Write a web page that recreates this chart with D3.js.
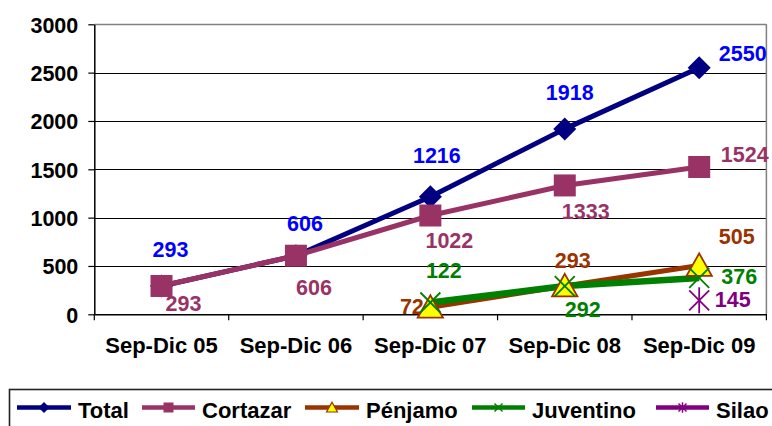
<!DOCTYPE html>
<html>
<head>
<meta charset="utf-8">
<script src="https://cdn.jsdelivr.net/npm/d3@7"></script>
<style>
  html, body { margin: 0; padding: 0; background: #fff; }
  svg { display: block; }
  text { font-family: "Liberation Sans", Arial, sans-serif; font-weight: bold; }
</style>
</head>
<body>
<svg id="chart" width="772" height="426"></svg>
<script>
// ---- data ----
const categories = ["Sep-Dic 05", "Sep-Dic 06", "Sep-Dic 07", "Sep-Dic 08", "Sep-Dic 09"];
const totalValues     = [293, 606, 1216, 1918, 2550];
const cortazarValues  = [293, 606, 1022, 1333, 1524];
const penjamoValues   = [null, null, 72, 293, 505];
const juventinoValues = [null, null, 122, 292, 376];
const silaoValues     = [null, null, null, null, 145];
const yTicks = [0, 500, 1000, 1500, 2000, 2500, 3000];
const seriesNames = ["Total", "Cortazar", "Pénjamo", "Juventino", "Silao"];

// ---- layout (label offsets relative to point, in px) ----
const totalLabelOffsets     = [[9, -29], [9, -25], [6.5, -34], [5, -29], [43.5, -7]];
const cortazarLabelOffsets  = [[22, 25.5], [18, 39], [19, 32.5], [21, 33.6], [45.5, -5]];
const penjamoLabelOffsets   = [null, null, [-18.5, 7], [8, -18], [37.5, -21.5]];
const juventinoLabelOffsets = [null, null, [13.5, -24.5], [18, 31], [40, 6]];
const silaoLabelOffsets     = [null, null, null, null, [33.5, 6.7]];

const series = [
  { name: seriesNames[0], values: totalValues, offs: totalLabelOffsets, line: "#000080", label: "#0000FF", width: 5, marker: "diamond" },
  { name: seriesNames[1], values: cortazarValues, offs: cortazarLabelOffsets, line: "#993366", label: "#993366", width: 5, marker: "square" },
  { name: seriesNames[2], values: penjamoValues, offs: penjamoLabelOffsets, line: "#993300", label: "#993300", width: 5, marker: "triangle" },
  { name: seriesNames[3], values: juventinoValues, offs: juventinoLabelOffsets, line: "#008000", label: "#008000", width: 6.5, marker: "x" },
  { name: seriesNames[4], values: silaoValues, offs: silaoLabelOffsets, line: "#800080", label: "#800080", width: 5, marker: "star" }
];

const svg = d3.select("#chart");
const plotL = 94.3, plotR = 766.4, plotT = 24.3, plotB = 314.3;

const x = d3.scaleBand().domain(categories).range([plotL, plotR]).paddingInner(0).paddingOuter(0);
const cx = c => x(c) + x.bandwidth() / 2;
const y = d3.scaleLinear().domain([0, 3000]).range([plotB, plotT]);

// gridlines
svg.append("g").selectAll("line").data(yTicks.filter(t => t > 0)).join("line")
  .attr("x1", plotL).attr("x2", plotR)
  .attr("y1", d => Math.round(y(d)) + 0.5).attr("y2", d => Math.round(y(d)) + 0.5)
  .attr("stroke", d => d === 3000 ? "#808080" : "#000").attr("stroke-width", d => d === 3000 ? 1.5 : 1.2);
// right border
svg.append("line").attr("x1", plotR).attr("x2", plotR).attr("y1", plotT).attr("y2", plotB)
  .attr("stroke", "#808080").attr("stroke-width", 1.5);

// y axis
const yAxis = svg.append("g").attr("transform", `translate(${plotL},0)`)
  .call(d3.axisLeft(y).tickValues(yTicks).tickFormat(d3.format("d")).tickSize(6).tickSizeOuter(0).tickPadding(10));
yAxis.select(".domain").attr("stroke", "#000").attr("stroke-width", 1.5);
yAxis.selectAll(".tick line").attr("stroke", "#000").attr("stroke-width", 1.2);
yAxis.selectAll(".tick text").attr("font-size", "21.5px").attr("fill", "#000")
  .attr("font-family", "'Liberation Sans', Arial, sans-serif").attr("font-weight", "bold")
  .attr("dy", "0.36em");

// x axis
const xAxis = svg.append("g").attr("transform", `translate(0,${plotB})`)
  .call(d3.axisBottom(x).tickSize(0).tickSizeOuter(0).tickPadding(0));
xAxis.select(".domain").attr("stroke", "#000").attr("stroke-width", 1.5);
xAxis.selectAll(".tick text").attr("font-size", "22px").attr("fill", "#000")
  .attr("font-family", "'Liberation Sans', Arial, sans-serif").attr("font-weight", "bold")
  .attr("dy", 0).attr("y", 39);
const bounds = categories.map(c => x(c)).concat([x(categories[categories.length - 1]) + x.bandwidth()]);
svg.append("g").selectAll("line").data(bounds).join("line")
  .attr("x1", d => d).attr("x2", d => d).attr("y1", plotB).attr("y2", plotB + 6)
  .attr("stroke", "#000").attr("stroke-width", 1.2);

// lines
const lineGen = d3.line().defined(d => d.v != null).x(d => cx(d.c)).y(d => y(d.v));
series.forEach(s => {
  const pts = categories.map((c, i) => ({ c, v: s.values[i] }));
  svg.append("path").datum(pts).attr("d", lineGen)
    .attr("fill", "none").attr("stroke", s.line).attr("stroke-width", s.width)
    .attr("stroke-linejoin", "round");
});

// labels
series.forEach(s => {
  categories.forEach((c, i) => {
    const v = s.values[i];
    if (v == null) return;
    const o = s.offs[i];
    svg.append("text").attr("x", cx(c) + o[0]).attr("y", y(v) + o[1])
      .attr("text-anchor", "middle").attr("font-size", "21.5px").attr("fill", s.label).text(v);
  });
});

// markers
function drawMarker(g, type, px, py, r, s) {
  if (type === "diamond") {
    g.append("path").attr("d", `M${px},${py - r}L${px + r},${py}L${px},${py + r}L${px - r},${py}Z`).attr("fill", s.line);
  } else if (type === "square") {
    g.append("rect").attr("x", px - r).attr("y", py - r).attr("width", 2 * r).attr("height", 2 * r).attr("fill", s.line);
  } else if (type === "triangle") {
    g.append("path").attr("d", `M${px},${py - r * 1.05}L${px + r * 1.1},${py + r * 0.9}L${px - r * 1.1},${py + r * 0.9}Z`)
      .attr("fill", "#FFFF00").attr("stroke", s.line).attr("stroke-width", r > 6 ? 1.8 : 1.2).attr("stroke-linejoin", "miter");
  } else if (type === "x" || type === "star") {
    const sw = r > 6 ? 1.8 : 1.5;
    g.append("line").attr("x1", px - r).attr("y1", py - r).attr("x2", px + r).attr("y2", py + r).attr("stroke", s.line).attr("stroke-width", sw);
    g.append("line").attr("x1", px - r).attr("y1", py + r).attr("x2", px + r).attr("y2", py - r).attr("stroke", s.line).attr("stroke-width", sw);
    if (type === "star") {
      g.append("line").attr("x1", px).attr("y1", py - r * 1.3).attr("x2", px).attr("y2", py + r * 1.3).attr("stroke", s.line).attr("stroke-width", sw);
    }
  }
}
const markerSize = { diamond: 11.5, square: 11, triangle: 11.5, x: 10, star: 10 };
const mg = svg.append("g");
series.forEach(s => {
  categories.forEach((c, i) => {
    const v = s.values[i];
    if (v == null) return;
    drawMarker(mg, s.marker, cx(c), y(v), markerSize[s.marker], s);
  });
});

// legend
const legendLineX = [[17, 71], [142, 195], [305, 359], [472, 525], [656, 709]];
const legendTextX = [78, 202, 366, 532, 716];
const legendMarkerSize = { diamond: 5.5, square: 5, triangle: 5, x: 4, star: 4 };
const lg = svg.append("g");
lg.append("rect").attr("x", 9.5).attr("y", 389.5).attr("width", 800).attr("height", 80)
  .attr("fill", "none").attr("stroke", "#222").attr("stroke-width", 1.6);
series.forEach((s, i) => {
  const [x1, x2] = legendLineX[i];
  const ly = 407.5;
  lg.append("line").attr("x1", x1).attr("x2", x2).attr("y1", ly).attr("y2", ly)
    .attr("stroke", s.line).attr("stroke-width", 4.5);
  drawMarker(lg, s.marker, (x1 + x2) / 2, ly, legendMarkerSize[s.marker], s);
  lg.append("text").attr("x", legendTextX[i]).attr("y", 418).attr("font-size", "22px").attr("fill", "#000").text(s.name);
});
</script>
</body>
</html>
